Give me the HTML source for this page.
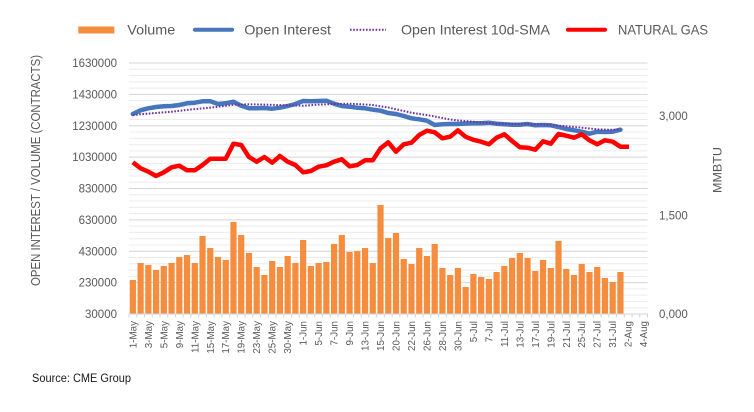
<!DOCTYPE html>
<html><head><meta charset="utf-8"><style>
html,body{margin:0;padding:0;background:#fff;}
svg{display:block;font-family:"Liberation Sans",sans-serif;}
</style></head><body>
<svg width="754" height="412" viewBox="0 0 754 412" xmlns="http://www.w3.org/2000/svg">
<rect width="754" height="412" fill="#fff"/>
<!-- legend -->
<rect x="78.3" y="26.5" width="36" height="7" fill="#f68d3e"/>
<text x="127.3" y="34.3" font-size="14" fill="#595959" textLength="48" lengthAdjust="spacingAndGlyphs">Volume</text>
<line x1="195" y1="29.7" x2="232" y2="29.7" stroke="#4676bd" stroke-width="4" stroke-linecap="round"/>
<text x="244.3" y="34.3" font-size="14" fill="#595959" textLength="86.7" lengthAdjust="spacingAndGlyphs">Open Interest</text>
<line x1="350" y1="29.7" x2="386" y2="29.7" stroke="#7030a0" stroke-width="2" stroke-dasharray="1.6 1.6"/>
<text x="401" y="34.3" font-size="14" fill="#595959" textLength="149" lengthAdjust="spacingAndGlyphs">Open Interest 10d-SMA</text>
<line x1="568" y1="29.7" x2="605" y2="29.7" stroke="#ff0000" stroke-width="4" stroke-linecap="round"/>
<text x="618" y="34.3" font-size="14" fill="#595959" textLength="90" lengthAdjust="spacingAndGlyphs">NATURAL GAS</text>

<!-- gridlines -->
<g stroke="#ececec" stroke-width="1">
<line x1="129" x2="647.5" y1="69.275" y2="69.275"/><line x1="129" x2="647.5" y1="75.55" y2="75.55"/><line x1="129" x2="647.5" y1="81.825" y2="81.825"/><line x1="129" x2="647.5" y1="88.1" y2="88.1"/>
<line x1="129" x2="647.5" y1="100.65" y2="100.65"/><line x1="129" x2="647.5" y1="106.925" y2="106.925"/><line x1="129" x2="647.5" y1="113.2" y2="113.2"/><line x1="129" x2="647.5" y1="119.475" y2="119.475"/>
<line x1="129" x2="647.5" y1="132.025" y2="132.025"/><line x1="129" x2="647.5" y1="138.3" y2="138.3"/><line x1="129" x2="647.5" y1="144.575" y2="144.575"/><line x1="129" x2="647.5" y1="150.85" y2="150.85"/>
<line x1="129" x2="647.5" y1="163.4" y2="163.4"/><line x1="129" x2="647.5" y1="169.675" y2="169.675"/><line x1="129" x2="647.5" y1="175.95" y2="175.95"/><line x1="129" x2="647.5" y1="182.225" y2="182.225"/>
<line x1="129" x2="647.5" y1="194.775" y2="194.775"/><line x1="129" x2="647.5" y1="201.05" y2="201.05"/><line x1="129" x2="647.5" y1="207.325" y2="207.325"/><line x1="129" x2="647.5" y1="213.6" y2="213.6"/>
<line x1="129" x2="647.5" y1="226.15" y2="226.15"/><line x1="129" x2="647.5" y1="232.425" y2="232.425"/><line x1="129" x2="647.5" y1="238.7" y2="238.7"/><line x1="129" x2="647.5" y1="244.975" y2="244.975"/>
<line x1="129" x2="647.5" y1="257.525" y2="257.525"/><line x1="129" x2="647.5" y1="263.8" y2="263.8"/><line x1="129" x2="647.5" y1="270.075" y2="270.075"/><line x1="129" x2="647.5" y1="276.35" y2="276.35"/>
<line x1="129" x2="647.5" y1="288.9" y2="288.9"/><line x1="129" x2="647.5" y1="295.175" y2="295.175"/><line x1="129" x2="647.5" y1="301.45" y2="301.45"/><line x1="129" x2="647.5" y1="307.725" y2="307.725"/>
</g>
<g stroke="#d4d4d4" stroke-width="1">
<line x1="129" x2="647.5" y1="63" y2="63"/><line x1="129" x2="647.5" y1="94.375" y2="94.375"/><line x1="129" x2="647.5" y1="125.75" y2="125.75"/><line x1="129" x2="647.5" y1="157.125" y2="157.125"/><line x1="129" x2="647.5" y1="188.5" y2="188.5"/><line x1="129" x2="647.5" y1="219.875" y2="219.875"/><line x1="129" x2="647.5" y1="251.25" y2="251.25"/><line x1="129" x2="647.5" y1="282.625" y2="282.625"/>
</g>

<!-- left axis labels -->
<g font-size="11.5" fill="#595959" text-anchor="end">
<text x="117" y="67">1630000</text>
<text x="117" y="98.4">1430000</text>
<text x="117" y="129.8">1230000</text>
<text x="117" y="161.1">1030000</text>
<text x="117" y="192.5">830000</text>
<text x="117" y="223.9">630000</text>
<text x="117" y="255.3">430000</text>
<text x="117" y="286.6">230000</text>
<text x="117" y="318">30000</text>
</g>
<text transform="translate(40,170.5) rotate(-90)" font-size="12.5" fill="#595959" text-anchor="middle" textLength="231" lengthAdjust="spacingAndGlyphs">OPEN INTEREST / VOLUME (CONTRACTS)</text>

<!-- right axis labels -->
<g font-size="11.5" fill="#595959">
<text x="659" y="120">3,000</text>
<text x="659" y="219.5">1,500</text>
<text x="659" y="318">0,000</text>
</g>
<text transform="translate(721.5,170) rotate(-90)" font-size="12" fill="#595959" text-anchor="middle" textLength="46" lengthAdjust="spacingAndGlyphs">MMBTU</text>

<!-- bars -->
<g fill="#f68d3e">
<rect x="129.77" y="280" width="6.2" height="34"/><rect x="137.51" y="263" width="6.2" height="51"/><rect x="145.25" y="265" width="6.2" height="49"/><rect x="152.99" y="270" width="6.2" height="44"/><rect x="160.73" y="266" width="6.2" height="48"/><rect x="168.46" y="263" width="6.2" height="51"/><rect x="176.2" y="257" width="6.2" height="57"/><rect x="183.94" y="255" width="6.2" height="59"/><rect x="191.68" y="263" width="6.2" height="51"/><rect x="199.42" y="236" width="6.2" height="78"/>
<rect x="207.16" y="248" width="6.2" height="66"/><rect x="214.9" y="257" width="6.2" height="57"/><rect x="222.64" y="260" width="6.2" height="54"/><rect x="230.38" y="222" width="6.2" height="92"/><rect x="238.12" y="235" width="6.2" height="79"/><rect x="245.86" y="253" width="6.2" height="61"/><rect x="253.59" y="267" width="6.2" height="47"/><rect x="261.33" y="275" width="6.2" height="39"/><rect x="269.07" y="261" width="6.2" height="53"/><rect x="276.81" y="267" width="6.2" height="47"/>
<rect x="284.55" y="256" width="6.2" height="58"/><rect x="292.29" y="263" width="6.2" height="51"/><rect x="300.03" y="240" width="6.2" height="74"/><rect x="307.77" y="266" width="6.2" height="48"/><rect x="315.51" y="263" width="6.2" height="51"/><rect x="323.25" y="262" width="6.2" height="52"/><rect x="330.99" y="244" width="6.2" height="70"/><rect x="338.72" y="235" width="6.2" height="79"/><rect x="346.46" y="252" width="6.2" height="62"/><rect x="354.2" y="251" width="6.2" height="63"/>
<rect x="361.94" y="248" width="6.2" height="66"/><rect x="369.68" y="263" width="6.2" height="51"/><rect x="377.42" y="205" width="6.2" height="109"/><rect x="385.16" y="238" width="6.2" height="76"/><rect x="392.9" y="233" width="6.2" height="81"/><rect x="400.64" y="259" width="6.2" height="55"/><rect x="408.38" y="264" width="6.2" height="50"/><rect x="416.12" y="248" width="6.2" height="66"/><rect x="423.85" y="256" width="6.2" height="58"/><rect x="431.59" y="244" width="6.2" height="70"/>
<rect x="439.33" y="268" width="6.2" height="46"/><rect x="447.07" y="275" width="6.2" height="39"/><rect x="454.81" y="268" width="6.2" height="46"/><rect x="462.55" y="287" width="6.2" height="27"/><rect x="470.29" y="274" width="6.2" height="40"/><rect x="478.03" y="277" width="6.2" height="37"/><rect x="485.77" y="279" width="6.2" height="35"/><rect x="493.51" y="272" width="6.2" height="42"/><rect x="501.24" y="266" width="6.2" height="48"/><rect x="508.98" y="258" width="6.2" height="56"/>
<rect x="516.72" y="253" width="6.2" height="61"/><rect x="524.46" y="258" width="6.2" height="56"/><rect x="532.2" y="271" width="6.2" height="43"/><rect x="539.94" y="260" width="6.2" height="54"/><rect x="547.68" y="268" width="6.2" height="46"/><rect x="555.42" y="241" width="6.2" height="73"/><rect x="563.16" y="269" width="6.2" height="45"/><rect x="570.9" y="275" width="6.2" height="39"/><rect x="578.63" y="264" width="6.2" height="50"/><rect x="586.37" y="272" width="6.2" height="42"/>
<rect x="594.11" y="267" width="6.2" height="47"/><rect x="601.85" y="278" width="6.2" height="36"/><rect x="609.59" y="282" width="6.2" height="32"/><rect x="617.33" y="272" width="6.2" height="42"/>
</g>

<!-- x axis -->
<line x1="129" x2="647.5" y1="314" y2="314" stroke="#d4d4d4" stroke-width="1"/>
<path stroke="#d4d4d4" stroke-width="1" fill="none" d="M129,314v3.5M136.74,314v3.5M144.48,314v3.5M152.22,314v3.5M159.96,314v3.5M167.7,314v3.5M175.43,314v3.5M183.17,314v3.5M190.91,314v3.5M198.65,314v3.5M206.39,314v3.5M214.13,314v3.5M221.87,314v3.5M229.61,314v3.5M237.35,314v3.5M245.09,314v3.5M252.82,314v3.5M260.56,314v3.5M268.3,314v3.5M276.04,314v3.5M283.78,314v3.5M291.52,314v3.5M299.26,314v3.5M307,314v3.5M314.74,314v3.5M322.48,314v3.5M330.21,314v3.5M337.95,314v3.5M345.69,314v3.5M353.43,314v3.5M361.17,314v3.5M368.91,314v3.5M376.65,314v3.5M384.39,314v3.5M392.13,314v3.5M399.87,314v3.5M407.6,314v3.5M415.34,314v3.5M423.08,314v3.5M430.82,314v3.5M438.56,314v3.5M446.3,314v3.5M454.04,314v3.5M461.78,314v3.5M469.52,314v3.5M477.26,314v3.5M484.99,314v3.5M492.73,314v3.5M500.47,314v3.5M508.21,314v3.5M515.95,314v3.5M523.69,314v3.5M531.43,314v3.5M539.17,314v3.5M546.91,314v3.5M554.65,314v3.5M562.38,314v3.5M570.12,314v3.5M577.86,314v3.5M585.6,314v3.5M593.34,314v3.5M601.08,314v3.5M608.82,314v3.5M616.56,314v3.5M624.3,314v3.5M632.04,314v3.5M639.77,314v3.5M647.5,314v3.5"/>

<!-- x labels -->
<g font-size="9.8" fill="#595959" text-anchor="end">
<text transform="translate(136.4,321) rotate(-90)">1-May</text>
<text transform="translate(151.9,321) rotate(-90)">3-May</text>
<text transform="translate(167.3,321) rotate(-90)">5-May</text>
<text transform="translate(182.8,321) rotate(-90)">9-May</text>
<text transform="translate(198.3,321) rotate(-90)">11-May</text>
<text transform="translate(213.8,321) rotate(-90)">15-May</text>
<text transform="translate(229.2,321) rotate(-90)">17-May</text>
<text transform="translate(244.7,321) rotate(-90)">19-May</text>
<text transform="translate(260.2,321) rotate(-90)">23-May</text>
<text transform="translate(275.7,321) rotate(-90)">25-May</text>
<text transform="translate(291.2,321) rotate(-90)">30-May</text>
<text transform="translate(306.6,321) rotate(-90)">1-Jun</text>
<text transform="translate(322.1,321) rotate(-90)">5-Jun</text>
<text transform="translate(337.6,321) rotate(-90)">7-Jun</text>
<text transform="translate(353.1,321) rotate(-90)">9-Jun</text>
<text transform="translate(368.5,321) rotate(-90)">13-Jun</text>
<text transform="translate(384,321) rotate(-90)">15-Jun</text>
<text transform="translate(399.5,321) rotate(-90)">20-Jun</text>
<text transform="translate(415,321) rotate(-90)">22-Jun</text>
<text transform="translate(430.5,321) rotate(-90)">26-Jun</text>
<text transform="translate(445.9,321) rotate(-90)">28-Jun</text>
<text transform="translate(461.4,321) rotate(-90)">30-Jun</text>
<text transform="translate(476.9,321) rotate(-90)">5-Jul</text>
<text transform="translate(492.4,321) rotate(-90)">7-Jul</text>
<text transform="translate(507.8,321) rotate(-90)">11-Jul</text>
<text transform="translate(523.3,321) rotate(-90)">13-Jul</text>
<text transform="translate(538.8,321) rotate(-90)">17-Jul</text>
<text transform="translate(554.3,321) rotate(-90)">19-Jul</text>
<text transform="translate(569.8,321) rotate(-90)">21-Jul</text>
<text transform="translate(585.2,321) rotate(-90)">25-Jul</text>
<text transform="translate(600.7,321) rotate(-90)">27-Jul</text>
<text transform="translate(616.2,321) rotate(-90)">31-Jul</text>
<text transform="translate(631.7,321) rotate(-90)">2-Aug</text>
<text transform="translate(647.1,321) rotate(-90)">4-Aug</text>
</g>

<!-- Open Interest -->
<polyline fill="none" stroke="#4676bd" stroke-width="4.5" stroke-linejoin="round" stroke-linecap="round" points="132.87,114 140.61,110.3 148.35,108.3 156.09,107 163.83,106.3 171.56,106 179.3,105 187.04,103.3 194.78,102.7 202.52,101.3 210.26,101.3 218,104 225.74,103.3 233.48,101.7 241.22,105.7 248.96,108.3 256.69,108.3 264.43,108 272.17,108.7 279.91,107.7 287.65,106 295.39,104 303.13,101 310.87,101.3 318.61,101 326.35,100.7 334.09,103.7 341.82,106 349.56,106.7 357.3,107.7 365.04,108.3 372.78,109.7 380.52,110.7 388.26,113 396,114 403.74,116 411.48,118.3 419.22,119.3 426.95,120.7 434.69,125 442.43,124.3 450.17,124 457.91,124 465.65,123.5 473.39,123.3 481.13,123.3 488.87,122.7 496.61,123.7 504.34,124.3 512.08,124.7 519.82,124.7 527.56,124 535.3,125.3 543.04,125 550.78,125.3 558.52,127 566.26,129 574,130.3 581.73,131.7 589.47,133.7 597.21,131.7 604.95,132 612.69,131.7 620.43,129.7"/>

<!-- 10d SMA -->
<polyline fill="none" stroke="#7030a0" stroke-width="2" stroke-dasharray="1.6 1.6" points="132.87,115 152,113.3 171.56,111.7 190,109.6 210.26,107.7 225.7,105.8 233.48,104.7 248.96,104.3 264.4,104.6 287.65,105.3 303.13,105.7 318.6,104.6 334.09,104 349.56,103.7 361.7,104.3 372.78,105 380.52,106.3 388.26,107.5 396,109.3 403.74,111 411.48,112.7 419.22,114 428.3,115.3 434.69,116.5 442.4,118 450.17,119.5 457.9,120.5 465.65,121 481.1,122.5 496.61,123.6 512,124 527.56,124.2 543,124.6 558.52,125.7 570,126.6 581.73,127.7 597.21,129.3 608,129.7 620.43,129.7"/>

<!-- Natural gas -->
<polyline fill="none" stroke="#ff0000" stroke-width="4.5" stroke-linejoin="round" stroke-linecap="butt" points="132.87,162.3 140.61,168.3 148.35,171.7 156.09,176 163.83,172.3 171.56,167.3 179.3,165.7 187.04,170.3 194.78,170.3 202.52,165 210.26,158.7 218,158.7 225.74,158.7 233.48,143.7 241.22,145 248.96,157 256.69,161.7 264.43,157 272.17,162.7 279.91,156 287.65,161.7 295.39,165 303.13,172.3 310.87,171 318.61,166.7 326.35,165.3 334.09,161.7 341.82,159.3 349.56,166.3 357.3,165 365.04,160.3 372.78,160.3 380.52,148.3 388.26,142.3 396,151.7 403.74,144.3 411.48,142.7 419.22,135 426.95,130.7 434.69,132.3 442.43,138.3 450.17,136.7 457.91,130.3 465.65,136.8 473.39,139.8 481.13,141.7 488.87,144.3 496.61,137.7 504.34,134.3 512.08,141 519.82,147.3 527.56,147.7 535.3,149.7 543.04,141.3 550.78,143.7 558.52,134 566.26,135.7 574,137.7 581.73,134.3 589.47,140.3 597.21,144.3 604.95,140.3 612.69,141.7 620.43,146.7 629,146.7"/>

<!-- source -->
<text x="32" y="382" font-size="11.5" fill="#1a1a1a" textLength="99" lengthAdjust="spacingAndGlyphs">Source: CME Group</text>
</svg>
</body></html>
